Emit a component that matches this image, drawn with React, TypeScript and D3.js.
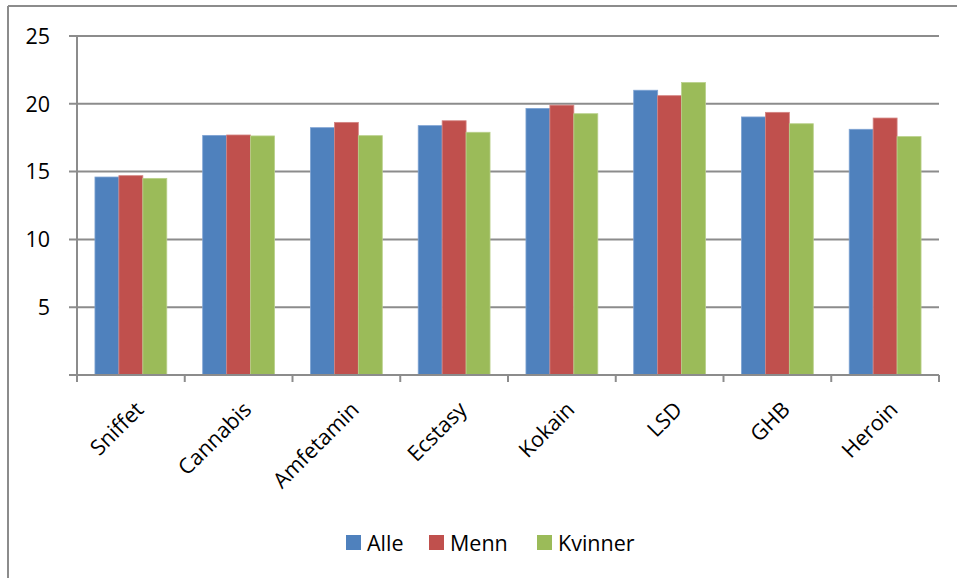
import React from "react";
import * as d3 from "d3";

const categories = ["Sniffet", "Cannabis", "Amfetamin", "Ecstasy", "Kokain", "LSD", "GHB", "Heroin"];
const seriesNames = ["Alle", "Menn", "Kvinner"];
const alle = [14.6, 17.67, 18.24, 18.39, 19.66, 21.0, 19.03, 18.12];
const menn = [14.7, 17.7, 18.63, 18.75, 19.9, 20.6, 19.37, 18.95];
const kvinner = [14.5, 17.63, 17.65, 17.9, 19.27, 21.57, 18.53, 17.58];
const yTicks = [5, 10, 15, 20, 25];
const colors = ["#4F81BD", "#C0504D", "#9BBB59"];
const strokes = ["#7EA3D3", "#D48482", "#B9D08A"];

const W = 957;
const H = 578;
const left = 77;
const right = 939;
const top = 36;
const bottom = 375;
const FONT = "'Open Sans', 'Noto Sans', sans-serif";
const FS = 21.5;

export default function App() {
  const series = [alle, menn, kvinner];
  const x = d3.scaleBand<string>().domain(categories).range([left, right]).paddingInner(0).paddingOuter(0);
  const y = d3.scaleLinear().domain([0, 25]).range([bottom, top]);
  const step = x.bandwidth();
  const barW = step / (3 + 1.5);
  const grid = "#8C8C8C";

  return (
    <div style={{ position: "absolute", left: 0, top: 0 }}>
      <svg width={W} height={H} style={{ display: "block", background: "#fff" }}>
        <line x1={8} y1={6} x2={W} y2={6} stroke={grid} strokeWidth={2} />
        <line x1={8} y1={6} x2={8} y2={H} stroke={grid} strokeWidth={2} />
        {yTicks.map((t) => (
          <g key={t}>
            <line x1={69} x2={right} y1={y(t)} y2={y(t)} stroke={grid} strokeWidth={2} />
            <text x={50} y={y(t)} dy="0.36em" textAnchor="end" fontFamily={FONT} fontSize={FS} fill="#000">
              {t}
            </text>
          </g>
        ))}
        {series.map((vals, si) =>
          vals.map((v, ci) => {
            const bx = (x(categories[ci]) as number) + (step - 3 * barW) / 2 + si * barW;
            return (
              <rect
                key={si + "-" + ci}
                x={bx}
                y={y(v)}
                width={barW}
                height={bottom - y(v)}
                fill={colors[si]}
                stroke={strokes[si]}
                strokeWidth={0.8}
              />
            );
          })
        )}
        <line x1={69} x2={right} y1={bottom} y2={bottom} stroke={grid} strokeWidth={2} />
        <line x1={left} x2={left} y1={top} y2={bottom} stroke={grid} strokeWidth={2} />
        {categories.concat([""]).map((c, i) => {
          const tx = left + i * step;
          return <line key={"t" + i} x1={tx} x2={tx} y1={bottom} y2={bottom + 7} stroke={grid} strokeWidth={2} />;
        })}
        {categories.map((c) => {
          const cx = (x(c) as number) + step / 2 + 14;
          const cy = 411;
          return (
            <text
              key={c}
              x={cx}
              y={cy}
              transform={`rotate(-45 ${cx} ${cy})`}
              textAnchor="end"
              fontFamily={FONT}
              fontSize={FS}
              fill="#000"
            >
              {c}
            </text>
          );
        })}
        {seriesNames.map((n, i) => {
          const sx = [346, 429, 537][i];
          return (
            <g key={n}>
              <rect x={sx} y={535} width={15} height={15} fill={colors[i]} />
              <text x={sx + 21} y={550.5} fontFamily={FONT} fontSize={FS} fill="#000">
                {n}
              </text>
            </g>
          );
        })}
      </svg>
    </div>
  );
}
